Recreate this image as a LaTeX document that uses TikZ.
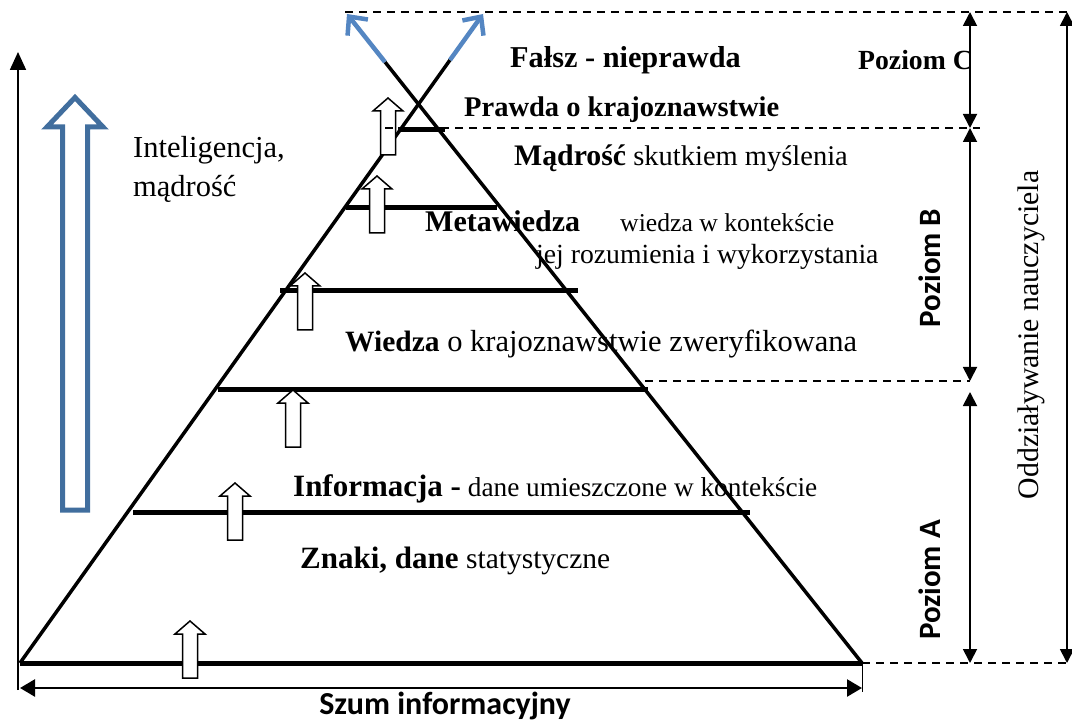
\documentclass[tikz,border=0pt]{standalone}
\usepackage{fontspec}
\setmainfont{Liberation Serif}
\newfontfamily\calib{Carlito}
\usetikzlibrary{arrows.meta}
\definecolor{bigblue}{RGB}{65,110,158}
\definecolor{thinblue}{RGB}{84,134,194}
\newcommand\Bx[2]{{\fontsize{#1}{#1}\selectfont\bfseries #2}}
\newcommand\Rx[2]{{\fontsize{#1}{#1}\selectfont #2}}
\tikzset{
  txt/.style={inner sep=0pt, anchor=base west},
  side/.style={line width=3.5pt},
  level/.style={line width=5pt},
  dashline/.style={line width=1.6pt, dash pattern=on 8pt off 6pt},
  dim/.style={line width=1.8pt, {Triangle[length=14pt,width=14pt]}-{Triangle[length=14pt,width=14pt]}},
  bluearr/.style={line width=4.5pt, thinblue, -{Straight Barb[length=14pt,width=26pt]}},
  hollowup/.pic={\draw[line width=1.5pt, fill=white] (-7.5,0) -- (-7.5,-44) -- (-15,-44) -- (0,-57) -- (15,-44) -- (7.5,-44) -- (7.5,0) -- cycle;}
}
\begin{document}
\begin{tikzpicture}[x=1pt,y=-1pt]
\useasboundingbox (0,0) rectangle (1072,722);
% key points
\coordinate (BL) at (20,663);
\coordinate (BR) at (862,663);
\coordinate (LT) at (450,60);
\coordinate (RT) at (385,62);
\coordinate (LTip) at (483,14);
\coordinate (RTip) at (347,14);
% big blue hollow arrow
\draw[bigblue, line width=5pt, fill=white, line join=miter]
  (62.5,510) -- (62.5,127) -- (47,127) -- (75,97.5) -- (103,127) -- (87.5,127) -- (87.5,510) -- cycle;
% left axis
\coordinate (AxB) at (18,690);
\coordinate (AxT) at (18,52);
\draw[line width=1.8pt, -{Triangle[length=18pt,width=16pt]}] (AxB) -- (AxT);
% bottom double arrow
\coordinate (SzL) at (20,688);
\coordinate (SzR) at (862,688);
\draw[line width=2.5pt, {Triangle[length=15pt,width=17pt]}-{Triangle[length=15pt,width=17pt]}] (SzL) -- (SzR);
\coordinate (TickB) at (862,692);
\draw[line width=1pt] (BR) -- (TickB);
% pyramid sides
\draw[side] (BL) -- (LT);
\draw[side] (BR) -- (RT);
\draw[bluearr] (LT) -- (LTip);
\draw[bluearr] (RT) -- (RTip);
% level lines
\draw[level] (BL) -- (BR);
\draw[level] (133,512) -- (750,512);
\draw[level] (218,389) -- (648,389);
\draw[level] (280,291) -- (578,291);
\draw[level] (346,208) -- (497,208);
\draw[level] (398,130) -- (445,130);
% small hollow arrows
\pic at (190,678) {hollowup};
\pic at (235,540) {hollowup};
\pic at (293,447) {hollowup};
\pic at (305,330) {hollowup};
\pic at (377,233) {hollowup};
\pic at (388,155) {hollowup};
% dashed lines
\draw[dashline] (345,12) -- (1072,12);
\draw[dashline] (385,128) -- (980,128);
\draw[dashline] (645,381) -- (970,381);
\draw[dashline] (BR) -- (1072,663);
% dimension arrows
\coordinate (C1) at (970,12);
\coordinate (C2) at (970,128);
\coordinate (B2) at (970,381);
\coordinate (A1) at (970,392);
\coordinate (A2) at (970,663);
\coordinate (O1) at (1067,12);
\coordinate (O2) at (1067,663);
\draw[dim] (C1) -- (C2);
\draw[dim] (C2) -- (B2);
\draw[dim] (A1) -- (A2);
\draw[dim] (O1) -- (O2);
% texts
\node[txt] (falsz) at (510,68) {\Bx{30.3}{Fałsz - nieprawda}};
\node[txt] (prawda) at (464,117) {\Bx{28.5}{Prawda o krajoznawstwie}};
\node[txt] (madrosc) at (514,166) {\Bx{29.8}{Mądrość}\Rx{28.5}{\ skutkiem myślenia}};
\node[txt] (meta) at (425,232) {\Bx{30}{Metawiedza}};
\node[txt] (meta2) at (620,232) {\Rx{25.7}{wiedza w kontekście}};
\node[txt] (meta3) at (536,264) {\Rx{27.7}{jej rozumienia i wykorzystania}};
\node[txt] (wiedza) at (345,352) {\Bx{29.5}{Wiedza}\Rx{30.5}{\ o krajoznawstwie zweryfikowana}};
\node[txt] (info) at (293,496) {\Bx{31}{Informacja -}\Rx{27.3}{\ dane umieszczone w kontekście}};
\node[txt] (znaki) at (300,568) {\Bx{31}{Znaki, dane}\Rx{29.5}{\ statystyczne}};
\node[txt] (intel) at (133,158) {\Rx{30.5}{Inteligencja,}};
\node[txt] (madr) at (133,197) {\Rx{30.5}{mądrość}};
\node[txt] (pC) at (858,70) {\Bx{27.7}{Poziom C}};
\node[rotate=90, inner sep=0pt, font={\calib\fontsize{31}{31}\selectfont\bfseries}] (pB) at (930,268) {Poziom B};
\node[rotate=90, inner sep=0pt, font={\calib\fontsize{31}{31}\selectfont\bfseries}] (pA) at (930,580) {Poziom A};
\node[rotate=90, inner sep=0pt] (odd) at (1031,335) {\Rx{29.8}{Oddziaływanie nauczyciela}};
\node[inner sep=0pt, font={\calib\fontsize{32}{32}\selectfont\bfseries}] (szum) at (445,706) {Szum informacyjny};
\end{tikzpicture}
\end{document}
